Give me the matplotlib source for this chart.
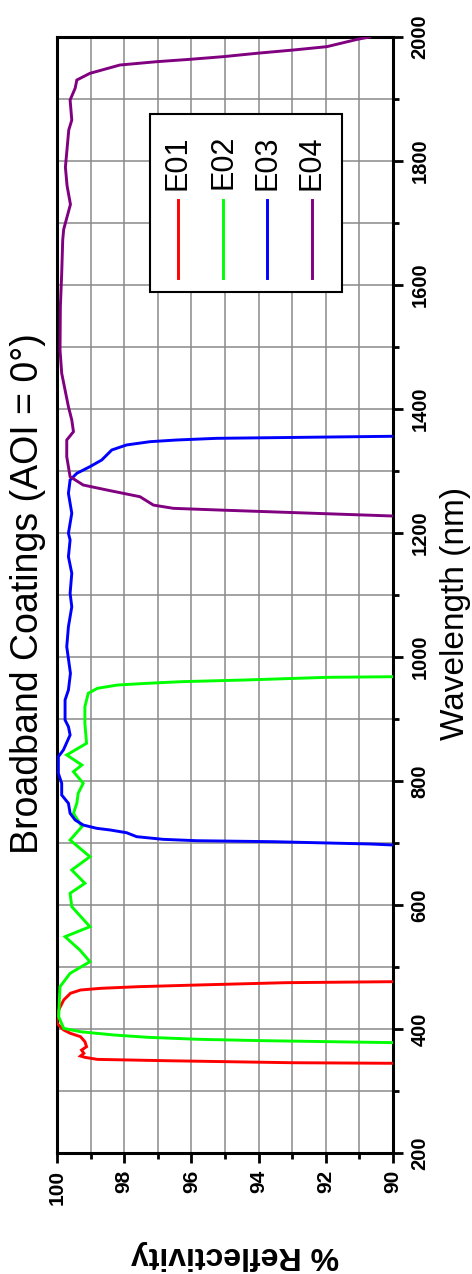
import matplotlib
matplotlib.use("Agg")
import matplotlib.pyplot as plt
from matplotlib.ticker import MultipleLocator, FixedLocator
from matplotlib.patches import Rectangle
from matplotlib.lines import Line2D

plt.rcParams['font.family'] = ['Liberation Sans', 'DejaVu Sans']

# ---------------- data ----------------
title = "Broadband Coatings (AOI = 0°)"
xlabel = "Wavelength (nm)"
ylabel = "% Reflectivity"
series_names = ["E01", "E02", "E03", "E04"]
series_colors = ["#ff0000", "#00ff00", "#0000ff", "#800080"]

e01_wl = [344.7, 345.6, 348.9, 351, 354.3, 356.4, 360.8, 366, 371.5, 379.6, 387.6, 393, 398.4,
          409, 414.5, 430.6, 446.8, 457.6, 462.9, 465.6, 468.2, 471, 474.7, 476.3]
e01_r = [90.0, 93.0, 96.8, 98.8, 99.17, 99.3, 99.2, 99.27, 99.12, 99.17, 99.3, 99.6, 99.8,
         100.0, 100.0, 99.95, 99.8, 99.6, 99.3, 98.7, 97.6, 95.8, 93.2, 90.0]

e02_wl = [378, 381.2, 383.4, 386.6, 390.3, 395.6, 401, 419.8, 446.8, 468.3, 489.8, 508.6, 527.4,
          548.9, 565, 597.3, 618.9, 635, 656.5, 677.9, 704.8, 726.3, 747.9, 764, 780.2, 796.3,
          815, 825.8, 842, 860.8, 893, 919.9, 941.4, 949.5, 954.8, 957.5, 960.2, 963, 967.2, 968.2]
e02_r = [90.0, 93.9, 95.8, 97.3, 98.3, 99.3, 99.8, 99.95, 99.93, 99.91, 99.61, 99.02, 99.32,
         99.76, 99.02, 99.56, 99.61, 99.17, 99.56, 99.02, 99.61, 99.26, 99.51, 99.41, 99.37, 99.22,
         99.51, 99.26, 99.71, 99.12, 99.17, 99.17, 99.07, 98.8, 98.2, 97.33, 96.3, 94.35, 91.97, 90.0]

e03_wl = [696.8, 698.4, 702.1, 703.7, 705.9, 710.2, 716.6, 721, 723.7, 729, 737.1, 747.9, 764,
          777.4, 796.3, 812.4, 839.2, 850, 874.2, 887.6, 898.4, 920, 930.6, 946.8, 973.7, 1016.6,
          1048.9, 1081, 1102.7, 1135, 1161.8, 1188.7, 1199.5, 1231.8, 1264, 1285.5, 1296.3, 1307,
          1317.7, 1333.9, 1342, 1347.3, 1350, 1352.7, 1356]
e03_r = [90.0, 90.68, 93.56, 95.84, 96.84, 97.63, 97.93, 98.42, 98.82, 99.22, 99.46, 99.61, 99.66,
         99.86, 99.86, 99.96, 99.96, 99.81, 99.61, 99.66, 99.76, 99.76, 99.76, 99.66, 99.6, 99.71,
         99.66, 99.56, 99.61, 99.56, 99.66, 99.61, 99.66, 99.56, 99.66, 99.61, 99.41, 99.02,
         98.67, 98.37, 97.93, 97.23, 96.44, 95.25, 90.0]

e04_wl = [1227.4, 1237, 1239.8, 1245, 1258.5, 1269.4, 1277.4, 1290.8, 1323, 1350, 1363.4, 1382.3,
          1403.7, 1430.6, 1457.6, 1495.2, 1565, 1618.9, 1672.6, 1690, 1710, 1730, 1760, 1790,
          1820, 1850, 1866, 1898.4, 1917.3, 1930.6, 1941.4, 1954.8, 1960.2, 1964, 1968.3, 1973.7,
          1979, 1984.4, 1996, 2000]
e04_r = [90.0, 95.15, 96.54, 97.13, 97.53, 98.52, 99.22, 99.61, 99.71, 99.71, 99.51, 99.56,
         99.66, 99.76, 99.86, 99.91, 99.9, 99.86, 99.83, 99.8, 99.7, 99.6, 99.7, 99.75,
         99.7, 99.65, 99.56, 99.61, 99.46, 99.41, 99.02, 98.13, 97.03, 96.04, 95.05, 94.06,
         92.97, 91.97, 91.08, 90.7]

wl_ticks = [200, 400, 600, 800, 1000, 1200, 1400, 1600, 1800, 2000]
r_ticks = [100, 98, 96, 94, 92, 90]

# ---------------- figure ----------------
W, H = 472, 1274
fig = plt.figure(figsize=(W / 100, H / 100), dpi=100)
L, R, T, B = 57, 393, 37, 1153
ax = fig.add_axes([L / W, 1 - B / H, (R - L) / W, (B - T) / H])

all_wl = [e01_wl, e02_wl, e03_wl, e04_wl]
all_r = [e01_r, e02_r, e03_r, e04_r]
for wl, r, c in zip(all_wl, all_r, series_colors):
    ax.plot(r, wl, color=c, lw=2.1, solid_joinstyle='miter', zorder=3)

ax.set_xlim(100, 90)
ax.set_ylim(200, 2000)
ax.xaxis.set_major_locator(FixedLocator(r_ticks))
ax.xaxis.set_minor_locator(MultipleLocator(1))
ax.yaxis.set_major_locator(FixedLocator(wl_ticks))
ax.yaxis.set_minor_locator(MultipleLocator(100))
ax.yaxis.tick_right()

ax.grid(which='both', color='#8a8a8a', lw=1.1, zorder=1)
ax.set_axisbelow(True)

for s in ax.spines.values():
    s.set_linewidth(2.2)
    s.set_color('black')

ax.tick_params(which='major', direction='out', length=7, width=2, color='black')
ax.tick_params(which='minor', direction='out', length=4.5, width=2, color='black')
ax.tick_params(axis='x', which='major', pad=5)
ax.tick_params(axis='y', which='major', pad=5.5)

ax.set_xticklabels([str(v) for v in r_ticks], rotation=90, fontsize=15,
                   fontweight='bold', va='top', ha='center')
ax.set_yticklabels([str(v) for v in wl_ticks], rotation=90, fontsize=14.5,
                   fontweight='bold', va='center', ha='left')

# titles / labels
fig.text(28 / W, 1 - 594 / H, title, rotation=90, ha='center', va='center', fontsize=27)
fig.text(464 / W, 1 - 613 / H, xlabel, rotation=90, rotation_mode='anchor',
         ha='center', va='baseline', fontsize=24)
fig.text(235 / W, 1 - 1255 / H, ylabel, rotation=180, ha='center', va='center',
         fontsize=23, fontweight='bold')

# custom (rotated) legend
def fx(px):
    return (px - L) / (R - L)

def fy(py):
    return 1 - (py - T) / (B - T)

ax.add_patch(Rectangle((fx(150), fy(292)), fx(342) - fx(150), fy(114) - fy(292),
                       transform=ax.transAxes, facecolor='white', edgecolor='black',
                       lw=1.5, zorder=5))
leg_x = [178, 223, 267, 312]
for name, c, px in zip(series_names, series_colors, leg_x):
    ax.text(fx(px), fy(135), name, rotation=90, ha='center', va='top', fontsize=22,
            transform=ax.transAxes, zorder=6)
    ax.add_line(Line2D([fx(px), fx(px)], [fy(200), fy(278)], color=c, lw=2.1,
                       transform=ax.transAxes, zorder=6))

fig.savefig("out.png", dpi=100, facecolor='white')
